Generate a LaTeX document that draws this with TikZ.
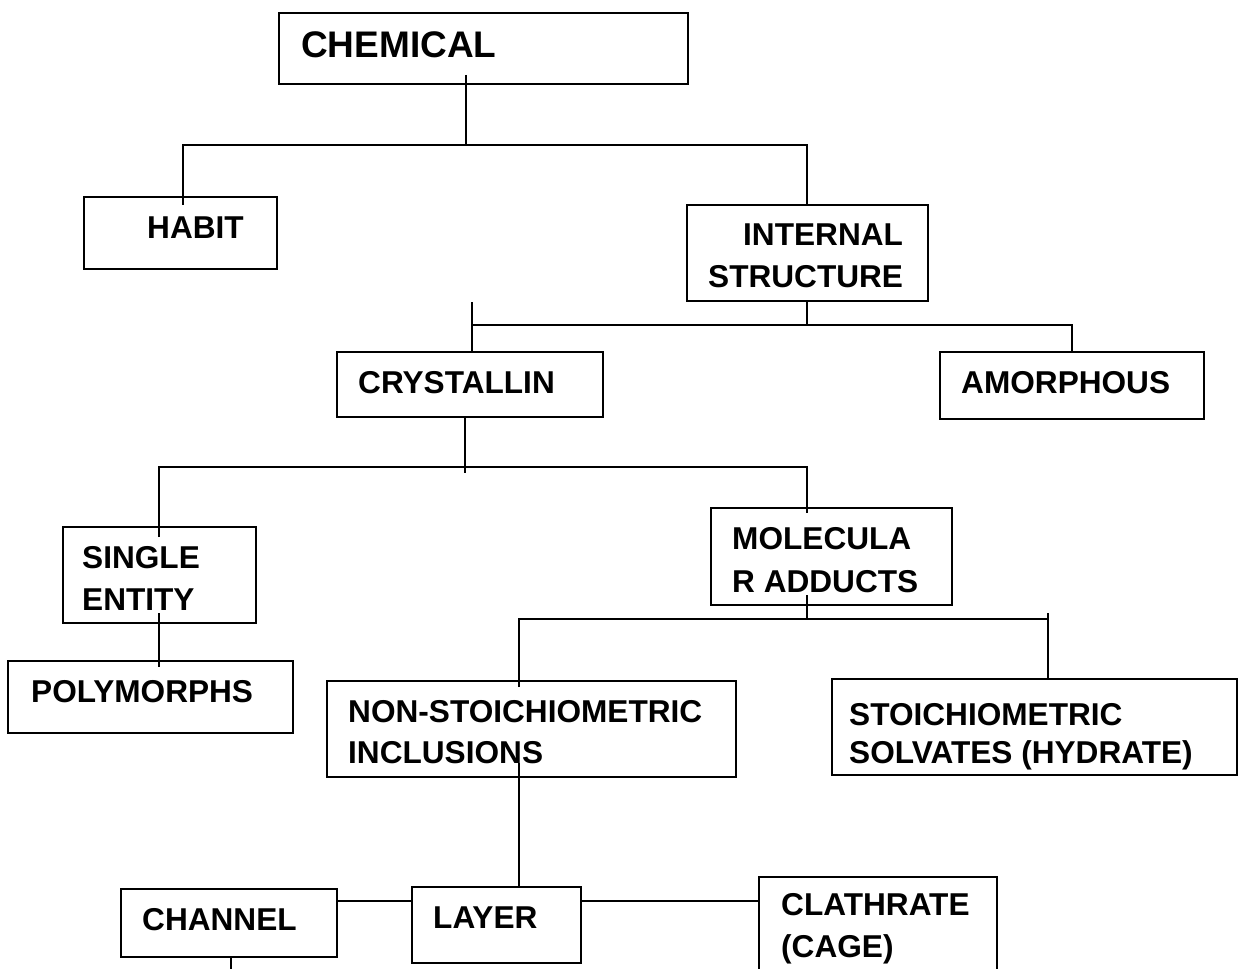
\documentclass[tikz,border=0pt]{standalone}
\usepackage{fontspec}
\setmainfont{Liberation Sans}
\usetikzlibrary{calc}
\tikzset{
  box/.style={draw, line width=2pt, inner sep=0pt, outer sep=0pt},
  lbl/.style={anchor=base west, inner sep=0pt, font=\fontsize{31.6}{36}\selectfont\bfseries},
  big/.style={anchor=base west, inner sep=0pt, font=\fontsize{37}{42}\selectfont\bfseries},
  conn/.style={line width=2pt}
}
\begin{document}
\begin{tikzpicture}[x=1pt,y=-1pt]
\useasboundingbox (0,0) rectangle (1238,968);
\clip (0,0) rectangle (1238,968);
% boxes
\node[box, minimum width=409pt, minimum height=71pt] (chem) at (483.5,48.5) {};
\node[box, minimum width=193pt, minimum height=72pt] (habit) at (180.5,233) {};
\node[box, minimum width=241pt, minimum height=96pt] (intl) at (807.5,253) {};
\node[box, minimum width=266pt, minimum height=65pt] (cryst) at (470,384.5) {};
\node[box, minimum width=264pt, minimum height=67pt] (amor) at (1072,385.5) {};
\node[box, minimum width=193pt, minimum height=96pt] (single) at (159.5,575) {};
\node[box, minimum width=285pt, minimum height=72pt] (poly) at (150.5,697) {};
\node[box, minimum width=241pt, minimum height=97pt] (molec) at (831.5,556.5) {};
\node[box, minimum width=409pt, minimum height=96pt] (nonst) at (531.5,729) {};
\node[box, minimum width=405pt, minimum height=96pt] (stoich) at (1034.5,727) {};
\node[box, minimum width=216pt, minimum height=68pt] (channel) at (229,923) {};
\node[box, minimum width=169pt, minimum height=76pt] (layer) at (496.5,925) {};
\node[box, minimum width=238pt, minimum height=113pt] (clath) at (878,933.5) {};
% texts
\node[big] (tchem) at (301,58) {CHEMICAL};
\node[lbl] (thabit) at (147,238) {HABIT};
\node[lbl] (tint1) at (743,245) {INTERNAL};
\node[lbl] (tint2) at (708,287) {STRUCTURE};
\node[lbl] (tcry) at (358,393) {CRYSTALLIN};
\node[lbl] (tamo) at (961,393) {AMORPHOUS};
\node[lbl] (tsin1) at (82,568) {SINGLE};
\node[lbl] (tsin2) at (82,610) {ENTITY};
\node[lbl] (tpol) at (31,702) {POLYMORPHS};
\node[lbl] (tmol1) at (732,549) {MOLECULA};
\node[lbl] (tmol2) at (732,592) {R ADDUCTS};
\node[lbl] (tnon1) at (348,722) {NON-STOICHIOMETRIC};
\node[lbl] (tnon2) at (348,763) {INCLUSIONS};
\node[lbl] (tsto1) at (849,725) {STOICHIOMETRIC};
\node[lbl] (tsto2) at (849,763) {SOLVATES (HYDRATE)};
\node[lbl] (tcha) at (142,930) {CHANNEL};
\node[lbl] (tlay) at (433,928) {LAYER};
\node[lbl] (tcla1) at (781,915) {CLATHRATE};
\node[lbl] (tcla2) at (781,957) {(CAGE)};
% junction coordinates
\coordinate (j1) at (466,145);
\coordinate (b1l) at (183,145);
\coordinate (b1r) at (807,145);
\coordinate (b2m) at (807,325);
\coordinate (b2l) at (472,325);
\coordinate (b2r) at (1072,325);
\coordinate (b2t) at (472,302);
\coordinate (b3m) at (465,467);
\coordinate (b3e) at (465,473);
\coordinate (b3l) at (159,467);
\coordinate (b3r) at (807,467);
\coordinate (b4m) at (807,619);
\coordinate (b4l) at (519,619);
\coordinate (b4r) at (1048,619);
\coordinate (b4t) at (1048,613);
\coordinate (hy) at (0,901);
% connectors
\draw[conn] ($(chem.south -| j1)+(0,-9)$) -- (j1);
\draw[conn] ($(habit.north -| b1l)+(0,8)$) -- (b1l) -- (b1r) -- (intl.north -| b1r);
\draw[conn] (intl.south -| b2m) -- (b2m);
\draw[conn] (b2t) -- (cryst.north -| b2t);
\draw[conn] (b2l) -- (b2r) -- (amor.north -| b2r);
\draw[conn] (cryst.south -| b3e) -- (b3e);
\draw[conn] ($(single.north -| b3l)+(0,10)$) -- (b3l) -- (b3r) -- ($(molec.north -| b3r)+(0,5)$);
\draw[conn] ($(single.south -| b3l)+(0,-10)$) -- ($(poly.north -| b3l)+(0,6)$);
\draw[conn] ($(molec.south -| b4m)+(0,-10)$) -- (b4m);
\draw[conn] ($(nonst.north -| b4l)+(0,6)$) -- (b4l) -- (b4r);
\draw[conn] (b4t) -- (stoich.north -| b4t);
\draw[conn] ($(nonst.south -| b4l)+(0,-14)$) -- (layer.north -| b4l);
\draw[conn] (channel.east |- hy) -- (layer.west |- hy);
\draw[conn] (layer.east |- hy) -- (clath.west |- hy);
\draw[conn] ($(channel.south)+(2,0)$) -- ++(0,12);
\end{tikzpicture}
\end{document}
